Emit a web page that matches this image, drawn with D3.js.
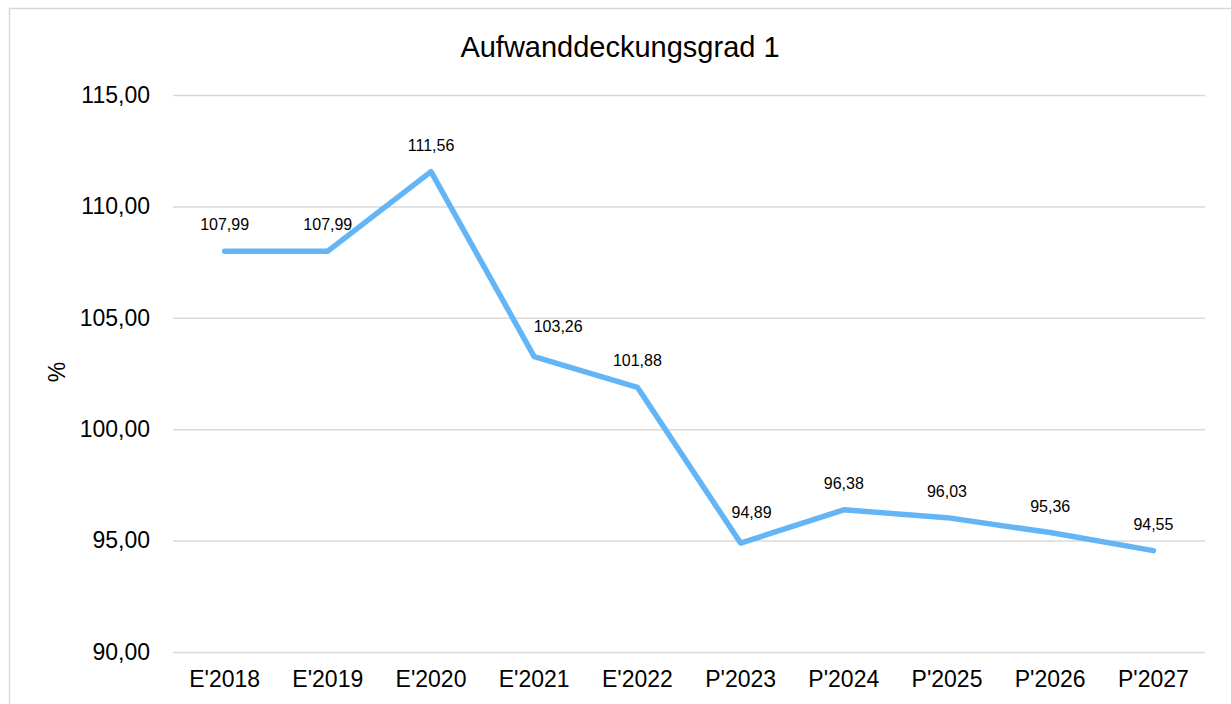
<!DOCTYPE html>
<html>
<head>
<meta charset="utf-8">
<script src="https://cdn.jsdelivr.net/npm/d3@7"></script>
<style>
  html, body { margin: 0; padding: 0; background: #fff; }
  svg { display: block; font-family: "Liberation Sans", Arial, sans-serif; }
</style>
</head>
<body>
<svg id="chart" width="1231" height="704"></svg>
<script>
// Chart data
const categories = ["E'2018", "E'2019", "E'2020", "E'2021", "E'2022", "P'2023", "P'2024", "P'2025", "P'2026", "P'2027"];
const values = [107.99, 107.99, 111.56, 103.26, 101.88, 94.89, 96.38, 96.03, 95.36, 94.55];
const yTicks = [90, 95, 100, 105, 110, 115];
const titleText = "Aufwanddeckungsgrad 1";
const yAxisLabel = "%";

const svg = d3.select("#chart");
const W = 1231, H = 704;
const plot = { left: 173, right: 1205, top: 95, bottom: 652 };

// Labels that were nudged off the line so they don't sit on it
const labelNudge = { "E'2021": [24, -4], "P'2023": [11, -4] };

const fmt = v => d3.format(".2f")(v).replace(".", ",");

// Chart frame
svg.append("rect")
  .attr("x", 9.5).attr("y", 8.5)
  .attr("width", W + 10).attr("height", H + 10)
  .attr("fill", "#fff").attr("stroke", "#d9d9d9").attr("stroke-width", 1.5);

const x = d3.scaleBand().domain(categories).range([plot.left, plot.right]);
const y = d3.scaleLinear().domain([90, 115]).range([plot.bottom, plot.top]);

// Gridlines + y tick labels
const yAxis = d3.axisLeft(y).tickValues(yTicks).tickFormat(fmt)
  .tickSize(-(plot.right - plot.left)).tickPadding(23);
const gy = svg.append("g").attr("transform", `translate(${plot.left},0)`).call(yAxis);
gy.select(".domain").remove();
gy.selectAll(".tick line").attr("stroke", "#d9d9d9").attr("stroke-width", 1.5);
gy.selectAll(".tick text").attr("fill", "#000").attr("font-size", 23)
  .attr("font-family", "Liberation Sans, Arial, sans-serif");

// X axis labels
const xAxis = d3.axisBottom(x).tickSize(0).tickPadding(19);
const gx = svg.append("g").attr("transform", `translate(0,${plot.bottom})`).call(xAxis);
gx.select(".domain").remove();
gx.selectAll(".tick text").attr("fill", "#000").attr("font-size", 23)
  .attr("font-family", "Liberation Sans, Arial, sans-serif");

// Series line
const pts = categories.map((c, i) => ({ c, v: values[i] }));
const cx = d => x(d.c) + x.bandwidth() / 2;
const line = d3.line().x(cx).y(d => y(d.v));
svg.append("path").datum(pts)
  .attr("d", line)
  .attr("fill", "none")
  .attr("stroke", "#64b5f6")
  .attr("stroke-width", 5.5)
  .attr("stroke-linejoin", "round")
  .attr("stroke-linecap", "round");

// Value labels
svg.append("g").selectAll("text").data(pts).join("text")
  .attr("x", d => cx(d) + (labelNudge[d.c] ? labelNudge[d.c][0] : 0))
  .attr("y", d => y(d.v) - 21 + (labelNudge[d.c] ? labelNudge[d.c][1] : 0))
  .attr("text-anchor", "middle")
  .attr("font-size", 16)
  .attr("fill", "#000")
  .text(d => fmt(d.v));

// Title
svg.append("text")
  .attr("x", 620).attr("y", 57)
  .attr("text-anchor", "middle")
  .attr("font-size", 29)
  .attr("fill", "#000")
  .text(titleText);

// Y axis title
svg.append("text")
  .attr("transform", "translate(65,372) rotate(-90)")
  .attr("text-anchor", "middle")
  .attr("font-size", 23)
  .attr("fill", "#000")
  .text(yAxisLabel);
</script>
</body>
</html>
